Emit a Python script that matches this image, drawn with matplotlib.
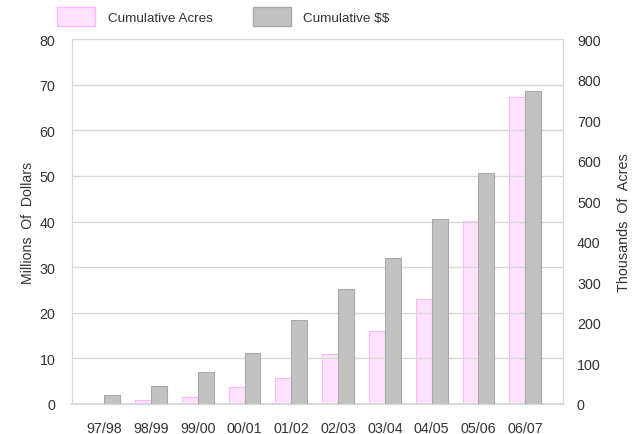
import matplotlib.pyplot as plt
from matplotlib.patches import Patch
import numpy as np

plt.rcParams['font.family'] = ['Liberation Sans', 'DejaVu Sans']

# Data
seasons = ['97/98', '98/99', '99/00', '00/01', '01/02',
           '02/03', '03/04', '04/05', '05/06', '06/07']
cum_dollars = [1.9, 4.0, 7.0, 11.2, 18.5, 25.2, 31.9, 40.6, 50.7, 68.5]   # millions
cum_acres = [3.5, 11, 18, 42, 65, 123, 179, 258, 452, 757]                 # thousands

dollar_ticks = list(range(0, 81, 10))
acre_ticks = list(range(0, 901, 100))

pink = '#FFE2FF'
pink_edge = '#FFB8FF'
gray = '#C2C2C2'
gray_edge = '#A9A9A9'
grid_col = '#D8D8D8'
text_col = '#333333'

fig = plt.figure(figsize=(6.42, 4.35), dpi=100)
ax = fig.add_axes([0.1121, 0.069, 0.765, 0.839])
ax2 = ax.twinx()

x = np.arange(len(seasons))
w = 0.34

ax2.bar(x - w / 2, cum_acres, width=w, color=pink, edgecolor=pink_edge, linewidth=0.8)
ax.bar(x + w / 2, cum_dollars, width=w, color=gray, edgecolor=gray_edge, linewidth=0.8, zorder=3)

ax.set_xlim(-0.69, 9.81)
ax.set_ylim(0, 80)
ax2.set_ylim(0, 900)
ax.set_yticks(dollar_ticks)
ax2.set_yticks(acre_ticks)
ax.set_xticks(x)
ax.set_xticklabels(seasons)

ax.grid(axis='y', color=grid_col, linewidth=1.0)
ax.set_axisbelow(True)
ax2.set_zorder(ax.get_zorder() - 1)
ax.patch.set_visible(False)

for a in (ax, ax2):
    for side in ('left', 'right', 'bottom'):
        a.spines[side].set_color(grid_col)
    a.spines['top'].set_visible(False)
ax.spines['bottom'].set_linewidth(1.4)

ax.tick_params(axis='y', length=0, pad=12, labelsize=10.3, labelcolor=text_col)
ax.tick_params(axis='x', length=0, pad=12, labelsize=10.3, labelcolor=text_col)
ax2.tick_params(axis='y', length=0, pad=10, labelsize=10.3, labelcolor=text_col)

ax.set_ylabel('Millions  Of  Dollars', fontsize=10.2, color=text_col, labelpad=3)
ax2.set_ylabel('Thousands  Of  Acres', fontsize=10.4, color=text_col, labelpad=12)

handles = [Patch(facecolor=pink, edgecolor=pink_edge, label='Cumulative Acres'),
           Patch(facecolor=gray, edgecolor=gray_edge, label=r'Cumulative \$\$')]
fig.legend(handles=handles, loc='upper left', bbox_to_anchor=(0.07, 1.01),
           ncol=2, frameon=False, fontsize=9.7, handlelength=2.8, handleheight=1.8,
           columnspacing=3.0, handletextpad=0.95, labelcolor=text_col)

fig.savefig('out.png', dpi=100)
